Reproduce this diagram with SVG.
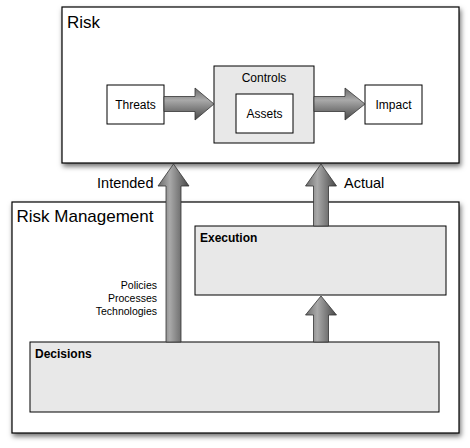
<svg xmlns="http://www.w3.org/2000/svg" width="470" height="448" viewBox="0 0 470 448">
  <defs>
    <filter id="shadow" x="-5%" y="-5%" width="112%" height="115%">
      <feDropShadow dx="1.5" dy="3" stdDeviation="2.5" flood-color="#000" flood-opacity="0.55"/>
    </filter>
    <linearGradient id="gv" x1="0" y1="0" x2="1" y2="0">
      <stop offset="0" stop-color="#6a6a6a"/>
      <stop offset="0.38" stop-color="#a9a9a9"/>
      <stop offset="1" stop-color="#474747"/>
    </linearGradient>
    <linearGradient id="gh" x1="0" y1="0" x2="0" y2="1">
      <stop offset="0" stop-color="#6a6a6a"/>
      <stop offset="0.38" stop-color="#a9a9a9"/>
      <stop offset="1" stop-color="#474747"/>
    </linearGradient>
    <style>
      .frame { fill: #ffffff; stroke: #000; stroke-width: 1.2; }
      .box { fill: #ffffff; stroke: #000; stroke-width: 1; }
      .gbox { fill: #e8e8e8; stroke: #000; stroke-width: 1; }
      .title { font-family: "Liberation Sans", Arial, sans-serif; font-size: 17px; fill: #000; }
      .lbl { font-family: "Liberation Sans", Arial, sans-serif; font-size: 12px; fill: #000; }
      .blbl { font-family: "Liberation Sans", Arial, sans-serif; font-size: 12px; font-weight: bold; fill: #000; }
      .alab { font-family: "Liberation Sans", Arial, sans-serif; font-size: 14.5px; fill: #000; }
      .small { font-family: "Liberation Sans", Arial, sans-serif; font-size: 10.5px; fill: #000; }
      .av { fill: url(#gv); stroke: #333; stroke-width: 0.8; }
      .ah { fill: url(#gh); stroke: #333; stroke-width: 0.8; }
    </style>
  </defs>

  <g id="risk">
    <rect class="frame" x="62" y="7" width="397" height="156" filter="url(#shadow)"/>
    <text class="title" x="67" y="28">Risk</text>
  </g>

  <g id="threats">
    <rect class="box" x="107" y="85" width="57" height="39"/>
    <text class="lbl" x="135.5" y="109" text-anchor="middle">Threats</text>
  </g>

  <g id="controls">
    <rect class="gbox" x="214" y="66" width="100" height="77"/>
    <text class="lbl" x="264" y="82" text-anchor="middle">Controls</text>
  </g>

  <g id="assets">
    <rect class="box" x="236" y="94" width="57" height="39"/>
    <text class="lbl" x="264.5" y="118" text-anchor="middle">Assets</text>
  </g>

  <g id="impact">
    <rect class="box" x="365" y="85" width="57" height="39"/>
    <text class="lbl" x="393.5" y="109" text-anchor="middle">Impact</text>
  </g>

  <g id="risk-management">
    <rect class="frame" x="12" y="202" width="447" height="231" filter="url(#shadow)"/>
    <text class="title" x="16.5" y="222">Risk Management</text>
  </g>

  <g id="execution">
    <rect class="gbox" x="195" y="226" width="251" height="69"/>
    <text class="blbl" x="200" y="242">Execution</text>
  </g>

  <g id="decisions">
    <rect class="gbox" x="30" y="342" width="409" height="70"/>
    <text class="blbl" x="35" y="358">Decisions</text>
  </g>

  <g id="connectors">
    <polygon class="ah" points="164,96.5 195,96.5 195,88 214,104 195,120 195,111.5 164,111.5"/>
    <polygon class="ah" points="314,96.5 345,96.5 345,88 365,104 345,120 345,111.5 314,111.5"/>
    <polygon class="av" points="166,342 166,186 158,186 173.5,164 189,186 181,186 181,342"/>
    <polygon class="av" points="313.5,226 313.5,186 305.5,186 321,164 336.5,186 328.5,186 328.5,226"/>
    <polygon class="av" points="313.5,342 313.5,315 305.5,315 321,296 336.5,315 328.5,315 328.5,342"/>
    <text class="alab" x="153.5" y="188" text-anchor="end">Intended</text>
    <text class="alab" x="344" y="188">Actual</text>
    <text class="small" x="157" y="289" text-anchor="end">Policies</text>
    <text class="small" x="157" y="302" text-anchor="end">Processes</text>
    <text class="small" x="157" y="315" text-anchor="end">Technologies</text>
  </g>
</svg>
